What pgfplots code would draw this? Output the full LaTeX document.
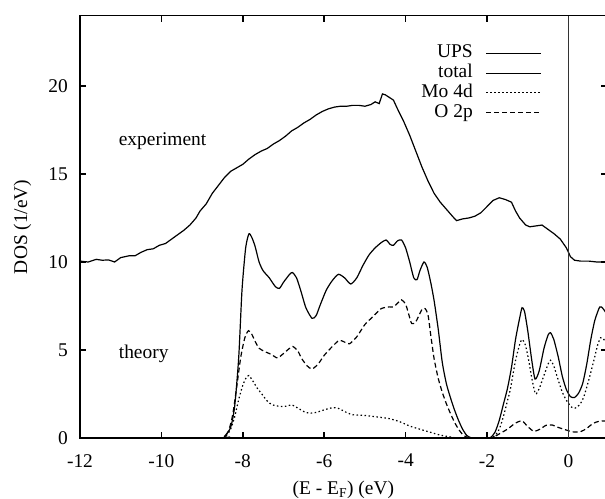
\documentclass[border=0pt]{standalone}
\usepackage{fontspec}
\setmainfont{Liberation Serif}
\usepackage{pgfplots}
\pgfplotsset{compat=1.18}
\newcommand{\fsz}{\fontsize{19.5}{22}\selectfont}
\begin{document}
\begin{tikzpicture}
\begin{axis}[
 scale only axis, width=526.7bp, height=422.4bp,
 xmin=-12, xmax=0.94, ymin=0, ymax=24,
 axis line style={line width=1.8bp},
 every tick/.style={line width=1.5bp, black},
 tick align=inside, major tick length=6bp,
 xtick={-12,-10,-8,-6,-4,-2,0}, xticklabels={-12,-10,-8,-6,-4,-2,0},
 ytick={0,5,10,15,20}, yticklabels={0,5,10,15,20},
 xticklabel style={font=\fsz, inner sep=0pt, anchor=north, yshift=-16bp},
 yticklabel style={font=\fsz, inner sep=0pt, anchor=east, xshift=-12bp},
 xlabel={(E - E\textsubscript{F}) (eV)}, ylabel={DOS (1/eV)},
 xlabel style={font=\fsz, at={(axis description cs:0.5,-0.1326)}, anchor=base, inner sep=0pt},
 ylabel style={font=\fsz, at={(axis description cs:-0.1006,0.5)}, anchor=base, inner sep=0pt},
 legend plot pos=right, legend cell align=right,
 legend image code/.code={\draw[#1] (0bp,0bp) -- (55bp,0bp);},
 legend style={draw=none, fill=none, font=\fsz, inner sep=0pt, column sep=13bp, row sep=1.7bp,
   nodes={inner sep=0pt, text height=13.5bp, text depth=4.5bp},
   at={(axis cs:-0.646,22.37)}, anchor=north east},
]
\addplot[black, line width=1.2bp] coordinates {
(-12.0,10.05) (-11.8,10.0) (-11.6,10.15) (-11.45,10.1) (-11.3,10.12) (-11.15,10.0) (-11.0,10.25)
(-10.8,10.35) (-10.65,10.35) (-10.5,10.55) (-10.35,10.7) (-10.2,10.75) (-10.05,10.95) (-9.9,11.05)
(-9.75,11.3) (-9.6,11.55) (-9.45,11.8) (-9.3,12.1) (-9.15,12.5) (-9.05,12.9) (-8.9,13.3) (-8.75,13.9)
(-8.6,14.35) (-8.45,14.8) (-8.3,15.15) (-8.15,15.35) (-8.0,15.55) (-7.85,15.85) (-7.7,16.1) (-7.55,16.3)
(-7.4,16.45) (-7.25,16.7) (-7.1,16.9) (-6.95,17.15) (-6.8,17.45) (-6.65,17.65) (-6.5,17.9) (-6.35,18.1)
(-6.2,18.35) (-6.05,18.55) (-5.9,18.7) (-5.75,18.8) (-5.6,18.85) (-5.45,18.85) (-5.3,18.9) (-5.15,18.9)
(-5.0,18.85) (-4.85,18.95) (-4.75,19.1) (-4.65,19.0) (-4.57,19.55) (-4.5,19.5) (-4.4,19.35) (-4.3,19.2)
(-4.2,18.7) (-4.05,18.0) (-3.9,17.2) (-3.75,16.3) (-3.6,15.4) (-3.45,14.6) (-3.3,13.9) (-3.15,13.4)
(-3.0,13.0) (-2.85,12.6) (-2.75,12.35) (-2.6,12.45) (-2.45,12.5) (-2.3,12.6) (-2.15,12.8) (-2.0,13.15)
(-1.85,13.5) (-1.7,13.65) (-1.55,13.55) (-1.4,13.4) (-1.3,12.9) (-1.2,12.5) (-1.05,12.1) (-0.95,12.0)
(-0.8,12.05) (-0.65,12.1) (-0.5,11.85) (-0.35,11.6) (-0.2,11.3) (-0.05,10.8) (0.05,10.3) (0.15,10.1)
(0.3,10.05) (0.5,10.05) (0.7,10.0) (0.94,10.0)
};
\addlegendentry{UPS}
\addplot[black, line width=1.2bp, smooth, tension=0.4] coordinates {
(-12,0) (-8.6,0) (-8.45,0.1) (-8.3,0.6) (-8.2,1.8) (-8.1,4.6) (-8.02,8.4) (-7.93,10.8) (-7.85,11.6)
(-7.78,11.4) (-7.7,10.9) (-7.6,10.0) (-7.5,9.5) (-7.35,9.1) (-7.2,8.6) (-7.1,8.5) (-7.0,8.85) (-6.85,9.3)
(-6.78,9.4) (-6.68,9.1) (-6.58,8.4) (-6.45,7.4) (-6.3,6.8) (-6.2,6.95) (-6.1,7.55) (-5.95,8.4) (-5.8,8.95)
(-5.65,9.3) (-5.5,9.1) (-5.35,8.75) (-5.2,9.1) (-5.05,9.8) (-4.9,10.4) (-4.75,10.8) (-4.6,11.1) (-4.48,11.25)
(-4.38,11.0) (-4.3,10.95) (-4.2,11.2) (-4.1,11.25) (-4.0,10.8) (-3.9,10.0) (-3.8,9.1) (-3.72,9.0) (-3.65,9.5)
(-3.55,10.0) (-3.47,9.7) (-3.38,8.8) (-3.3,7.8) (-3.2,6.2) (-3.1,4.3) (-3.0,3.1) (-2.9,2.3) (-2.8,1.6)
(-2.7,1.0) (-2.6,0.5) (-2.5,0.15) (-2.4,0.02) (-2.3,0) (-2.0,0) (-1.9,0.05) (-1.8,0.35) (-1.7,1.0)
(-1.6,1.9) (-1.5,2.8) (-1.4,4.0) (-1.3,5.6) (-1.2,6.8) (-1.14,7.4) (-1.08,7.2) (-1.0,6.1) (-0.9,4.4)
(-0.82,3.35) (-0.72,3.8) (-0.6,5.1) (-0.5,5.85) (-0.44,5.98) (-0.36,5.6) (-0.25,4.6) (-0.15,3.5)
(-0.05,2.75) (0.05,2.35) (0.15,2.3) (0.25,2.55) (0.35,3.1) (0.45,4.2) (0.55,5.6) (0.65,6.7) (0.77,7.45)
(0.85,7.35) (0.94,7.05)
};
\addlegendentry{total}
\addplot[black, line width=1.2bp, smooth, tension=0.4, dash pattern=on 1.5bp off 2.5bp] coordinates {
(-12,0) (-8.55,0) (-8.4,0.15) (-8.3,0.5) (-8.2,1.2) (-8.1,2.2) (-8.0,3.0) (-7.9,3.5) (-7.85,3.55)
(-7.77,3.3) (-7.65,2.85) (-7.52,2.46) (-7.4,2.1) (-7.28,1.89) (-7.1,1.8) (-6.95,1.8) (-6.8,1.88)
(-6.65,1.7) (-6.5,1.5) (-6.37,1.41) (-6.2,1.45) (-6.0,1.6) (-5.8,1.72) (-5.65,1.68) (-5.45,1.45)
(-5.3,1.32) (-5.0,1.28) (-4.64,1.18) (-4.4,1.1) (-4.15,0.93) (-3.9,0.68) (-3.65,0.5) (-3.4,0.33)
(-3.16,0.17) (-2.9,0.06) (-2.7,0.0) (-1.95,0) (-1.8,0.15) (-1.7,0.5) (-1.6,1.2) (-1.5,2.1) (-1.43,2.74)
(-1.3,4.4) (-1.2,5.3) (-1.14,5.6) (-1.06,5.3) (-0.98,4.46) (-0.9,3.4) (-0.81,2.51) (-0.72,2.8)
(-0.61,3.5) (-0.5,4.2) (-0.44,4.42) (-0.36,4.1) (-0.28,3.5) (-0.15,2.6) (-0.03,2.07) (0.08,1.75)
(0.17,1.7) (0.28,1.9) (0.38,2.36) (0.5,3.3) (0.63,4.46) (0.72,5.3) (0.79,5.7) (0.85,5.65) (0.94,5.4)
};
\addlegendentry{Mo 4d}
\addplot[black, line width=1.2bp, smooth, tension=0.4, dash pattern=on 5bp off 3bp] coordinates {
(-12,0) (-8.6,0) (-8.45,0.1) (-8.35,0.4) (-8.25,1.3) (-8.15,2.9) (-8.05,4.6) (-7.95,5.7) (-7.86,6.1)
(-7.78,5.9) (-7.7,5.5) (-7.6,5.1) (-7.45,4.9) (-7.3,4.75) (-7.15,4.55) (-7.0,4.8) (-6.85,5.1) (-6.77,5.2)
(-6.65,4.95) (-6.55,4.5) (-6.42,4.1) (-6.3,3.92) (-6.15,4.2) (-6.0,4.7) (-5.8,5.2) (-5.63,5.55)
(-5.5,5.45) (-5.38,5.35) (-5.2,5.75) (-5.0,6.45) (-4.8,6.9) (-4.6,7.35) (-4.4,7.45) (-4.3,7.45)
(-4.2,7.65) (-4.1,7.85) (-4.0,7.6) (-3.92,7.0) (-3.85,6.5) (-3.75,6.6) (-3.6,7.3) (-3.52,7.35)
(-3.45,7.0) (-3.38,5.8) (-3.3,4.5) (-3.2,3.4) (-3.1,2.6) (-3.0,1.95) (-2.9,1.4) (-2.8,0.9) (-2.7,0.5)
(-2.6,0.2) (-2.5,0.05) (-2.4,0) (-1.95,0) (-1.8,0.1) (-1.65,0.3) (-1.5,0.5) (-1.3,0.85) (-1.14,0.97)
(-1.0,0.65) (-0.85,0.38) (-0.7,0.5) (-0.55,0.72) (-0.4,0.74) (-0.25,0.6) (-0.05,0.45) (0.1,0.35)
(0.3,0.36) (0.45,0.55) (0.6,0.82) (0.75,0.95) (0.94,0.97)
};
\addlegendentry{O 2p}
\addplot[black!80, line width=1.2bp, forget plot] coordinates {(0,0) (0,24)};
\node[anchor=base west, font=\fsz, inner sep=0pt] at (axis cs:-11.05,16.6) {experiment};
\node[anchor=base west, font=\fsz, inner sep=0pt] at (axis cs:-11.05,4.5) {theory};
\end{axis}
\pgfresetboundingbox
\path (current axis.south west) ++(-80bp,-61bp) rectangle ++(605bp,499bp);
\end{tikzpicture}
\end{document}
